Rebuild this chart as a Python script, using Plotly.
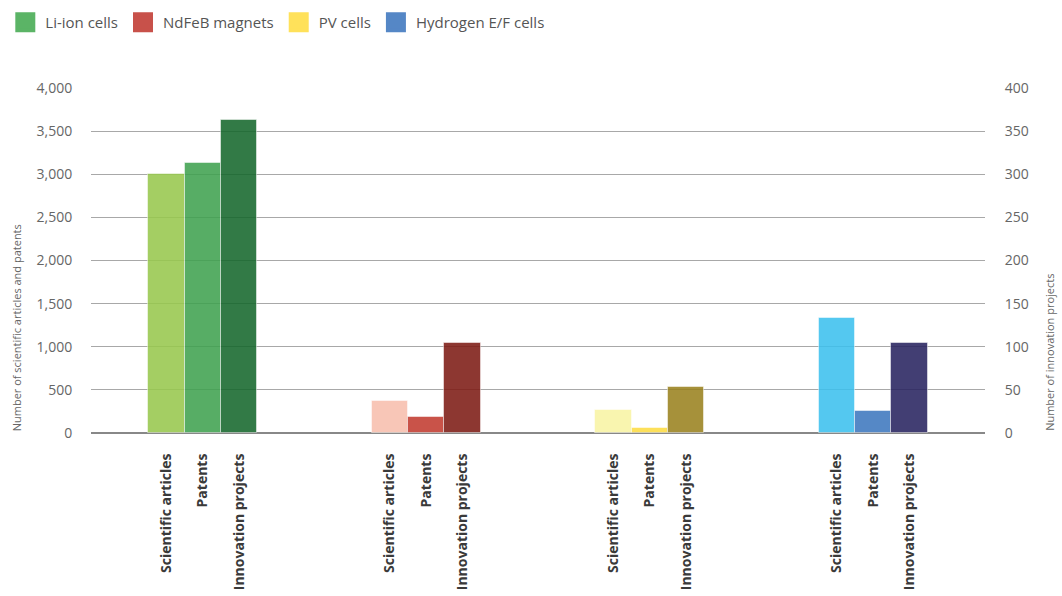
import plotly.graph_objects as go

groups = ["Li-ion cells", "NdFeB magnets", "PV cells", "Hydrogen E/F cells"]
bar_labels = ["Scientific articles", "Patents", "Innovation projects"]
scientific_articles = [3000, 370, 270, 1330]
patents = [3130, 180, 60, 260]
innovation_projects = [363, 104, 53, 104]

legend_colors = ["#5BB466", "#C8514A", "#FFE15A", "#5587C6"]
sa_colors = ["#98C84E", "#F8BFAE", "#F9F4A5", "#3DC1EE"]
pat_colors = ["#40A250", "#C23C31", "#FDDC44", "#3E78BF"]
ip_colors = ["#16682D", "#7E1C15", "#9A821F", "#292460"]

idx = list(range(len(groups)))
w = 0.163
font = "Open Sans"

fig = go.Figure()
series = [
    (scientific_articles, sa_colors, "y"),
    (patents, pat_colors, "y"),
    (innovation_projects, ip_colors, "y2"),
]
for i, (vals, cols, ax) in enumerate(series):
    fig.add_trace(go.Bar(
        x=idx, y=vals, width=w, offset=(i - 1.5) * w,
        marker=dict(color=cols, opacity=0.88,
                    line=dict(width=1, color="rgba(255,255,255,0.5)")),
        yaxis=ax, showlegend=False, name=bar_labels[i],
    ))

for g, c in zip(groups, legend_colors):
    fig.add_trace(go.Scatter(
        x=[None], y=[None], mode="markers", name=g,
        marker=dict(symbol="square", size=16, color=c, line=dict(width=4, color=c)),
    ))

tickvals = [g + (i - 1) * w for g in idx for i in range(3)]
ticktext = [bar_labels[i] for g in idx for i in range(3)]

fig.update_layout(
    width=1062, height=596,
    margin=dict(l=91, r=77, t=88, b=163),
    paper_bgcolor="white", plot_bgcolor="white",
    font=dict(family=font, color="#666666"),
    xaxis=dict(range=[-0.5, 3.5], tickvals=tickvals, ticktext=ticktext,
               tickangle=-90, showgrid=False, zeroline=False, showline=False,
               automargin=False,
               ticks="outside", ticklen=14, tickcolor="rgba(0,0,0,0)",
               tickfont=dict(family=font, size=14, color="#3a3a3a", weight="bold")),
    yaxis=dict(range=[0, 4000], dtick=500, tickformat=",", showgrid=True,
               gridcolor="#a8a8a8", gridwidth=1, zeroline=True, zerolinecolor="#888888",
               zerolinewidth=2, ticks="outside", ticklen=15, tickcolor="rgba(0,0,0,0)",
               automargin=False,
               tickfont=dict(family=font, size=14, color="#666666")),
    yaxis2=dict(range=[0, 400], dtick=50, overlaying="y", side="right", showgrid=False,
                zeroline=False, ticks="outside", ticklen=16, tickcolor="rgba(0,0,0,0)",
                automargin=False,
                tickfont=dict(family=font, size=14, color="#666666")),
    legend=dict(orientation="h", xref="container", yref="container", x=0.005, y=0.99,
                xanchor="left", yanchor="top", itemsizing="trace",
                font=dict(family=font, size=15, color="#555555"), tracegroupgap=0),
    bargap=0,
    annotations=[
        dict(text="Number of scientific articles and patents", xref="paper", yref="paper",
             x=-0.083, y=0, xanchor="center", yanchor="bottom", textangle=-90,
             showarrow=False, font=dict(family=font, size=11, color="#666666")),
        dict(text="Number of innovation projects", xref="paper", yref="paper",
             x=1.072, y=0, xanchor="center", yanchor="bottom", textangle=-90,
             showarrow=False, font=dict(family=font, size=11, color="#666666")),
    ],
)

fig.write_html("out.html")
